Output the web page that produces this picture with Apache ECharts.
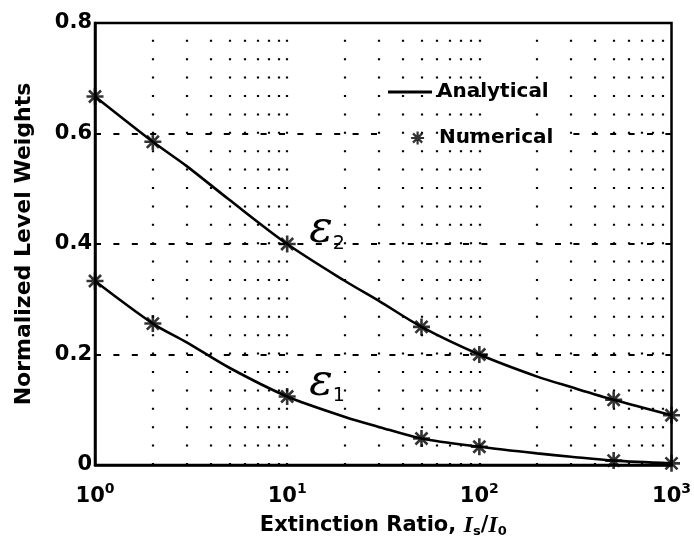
<!DOCTYPE html>
<html>
<head>
<meta charset="utf-8">
<script src="https://cdn.jsdelivr.net/npm/echarts@6/dist/echarts.min.js"></script>
<style>
  html, body { margin: 0; padding: 0; background: #fff; }
  #chart { width: 694px; height: 544px; }
</style>
</head>
<body>
<div id="chart"></div>
<script>
// Numerical solutions: normalized level weights vs extinction ratio
const numericX = [1, 2, 10, 50, 100, 500, 1000];
const numeric2 = [0.667, 0.585, 0.400, 0.250, 0.200, 0.118, 0.090];
const numeric1 = [0.333, 0.256, 0.124, 0.048, 0.033, 0.008, 0.003];

// Analytical curves, sampled more densely
const analyticX = [1, 2, 3, 5, 10, 20, 30, 50, 100, 200, 300, 500, 1000];
const analytic2 = [0.667, 0.585, 0.541, 0.480, 0.400, 0.333, 0.297, 0.250, 0.200, 0.160, 0.141, 0.118, 0.090];
const analytic1 = [0.333, 0.256, 0.222, 0.176, 0.124, 0.087, 0.069, 0.048, 0.033, 0.021, 0.015, 0.008, 0.003];

// Axis ticks and labels
const xTickExponents = ['0', '1', '2', '3'];
const yTicks = [0, 0.2, 0.4, 0.6, 0.8];
const yTickLabels = ['0', '0.2', '0.4', '0.6', '0.8'];
// Log-axis grid positions (2..9 of every decade plus the decades)
const logGridX = [2, 3, 4, 5, 6, 7, 8, 9, 10, 20, 30, 40, 50, 60, 70, 80, 90, 100,
                  200, 300, 400, 500, 600, 700, 800, 900];

const ASTERISK = 'path://M0,-8L0,8M-8,0L8,0M-5.66,-5.66L5.66,5.66M-5.66,5.66L5.66,-5.66';
const SANS = 'DejaVu Sans';

const zip = (xs, ys) => xs.map((x, i) => [x, ys[i]]);

// Curve name (epsilon with subscript) placed beside the x = 10 sample
function curveLabel(ys, sub) {
  return {
    silent: true,
    symbol: 'circle',
    symbolSize: 2,
    itemStyle: { color: 'rgba(0,0,0,0)' },
    data: [{
      coord: [numericX[2], ys[2]],
      label: {
        show: true,
        position: 'right',
        distance: 21,
        offset: [0, -13],
        formatter: '{e|\u03b5}{s|' + sub + '}',
        rich: {
          e: { fontFamily: 'DejaVu Serif', fontStyle: 'italic', fontSize: 44, lineHeight: 45, color: '#000' },
          s: { fontFamily: SANS, fontSize: 19, lineHeight: 14, color: '#000', verticalAlign: 'bottom' }
        }
      }
    }]
  };
}

const lineBase = {
  name: 'Analytical',
  type: 'line',
  smooth: 0.3,
  symbol: 'none',
  clip: false,
  lineStyle: { color: '#000', width: 2.6 },
  itemStyle: { color: '#000' },
  z: 3
};

const scatterBase = {
  name: 'Numerical',
  type: 'scatter',
  symbol: ASTERISK,
  symbolSize: 17,
  clip: false,
  itemStyle: { color: '#000', borderColor: '#000', borderWidth: 2.6 },
  z: 4
};

const chart = echarts.init(document.getElementById('chart'));
chart.setOption({
  backgroundColor: '#fff',
  animation: false,
  grid: {
    left: 95, right: 18, top: 23, bottom: 79,
    show: true, borderColor: '#000', borderWidth: 2.5, backgroundColor: 'transparent'
  },
  legend: [
    {
      data: [{ name: 'Analytical', icon: 'rect' }],
      left: 386, top: 80,
      orient: 'vertical',
      selectedMode: false,
      backgroundColor: '#fff',
      padding: [2, 11, 14, 2],
      itemWidth: 44, itemHeight: 3,
      itemStyle: { color: '#000', borderWidth: 0 },
      textStyle: { fontFamily: SANS, fontWeight: 'bold', fontSize: 20, color: '#000' }
    },
    {
      data: [{ name: 'Numerical', icon: ASTERISK }],
      left: 386, top: 116,
      orient: 'vertical',
      selectedMode: false,
      backgroundColor: '#fff',
      padding: [12, 8, 8, 24],
      itemWidth: 13, itemHeight: 13,
      itemStyle: { color: '#000', borderColor: '#000', borderWidth: 2.2 },
      textStyle: { fontFamily: SANS, fontWeight: 'bold', fontSize: 20, color: '#000', padding: [0, 0, 0, 10] }
    }
  ],
  xAxis: {
    type: 'log',
    logBase: 10,
    min: 1,
    max: 1000,
    name: '{t|Extinction Ratio, }{i|I}{u|s}{t|/}{i|I}{u|0}',
    nameLocation: 'middle',
    nameGap: 49,
    nameTextStyle: {
      rich: {
        t: { fontFamily: SANS, fontWeight: 'bold', fontSize: 21, color: '#000' },
        i: { fontFamily: 'Liberation Serif', fontWeight: 'bold', fontStyle: 'italic', fontSize: 24, color: '#000' },
        u: { fontFamily: SANS, fontWeight: 'bold', fontSize: 13, color: '#000', verticalAlign: 'bottom', padding: [9, 0, 0, 0] }
      }
    },
    axisLine: { show: true, onZero: false, lineStyle: { color: '#000', width: 2.5 } },
    axisTick: { show: false },
    splitLine: { show: false },
    axisLabel: {
      margin: 17,
      formatter: v => '{b|10}{s|' + xTickExponents[Math.round(Math.log10(v))] + '}',
      rich: {
        b: { fontFamily: SANS, fontWeight: 'bold', fontSize: 21, color: '#000' },
        s: { fontFamily: SANS, fontWeight: 'bold', fontSize: 14, color: '#000', verticalAlign: 'top', padding: [0, 0, 16, 0] }
      }
    }
  },
  yAxis: {
    type: 'value',
    min: yTicks[0],
    max: yTicks[yTicks.length - 1],
    interval: 0.2,
    name: 'Normalized Level Weights',
    nameLocation: 'middle',
    nameGap: 60,
    nameTextStyle: { fontFamily: SANS, fontWeight: 'bold', fontSize: 22, color: '#000' },
    axisLine: { show: true, lineStyle: { color: '#000', width: 2.5 } },
    axisTick: { show: false },
    axisLabel: {
      margin: 3,
      fontFamily: SANS, fontWeight: 'bold', fontSize: 21, color: '#000',
      formatter: v => yTickLabels[Math.round(v / 0.2)]
    },
    splitLine: { show: true, lineStyle: { color: '#000', width: 2, type: [6, 12.4] } }
  },
  series: [
    Object.assign({}, lineBase, {
      data: zip(analyticX, analytic2),
      markLine: {
        silent: true,
        symbol: 'none',
        label: { show: false },
        lineStyle: { color: '#000', width: 2.2, type: [2, 16.4] },
        data: logGridX.map(v => ({ xAxis: v }))
      },
      markPoint: curveLabel(numeric2, '2')
    }),
    Object.assign({}, lineBase, {
      data: zip(analyticX, analytic1),
      markPoint: curveLabel(numeric1, '1')
    }),
    Object.assign({}, scatterBase, { data: zip(numericX, numeric2) }),
    Object.assign({}, scatterBase, { data: zip(numericX, numeric1) })
  ]
});
</script>
</body>
</html>
